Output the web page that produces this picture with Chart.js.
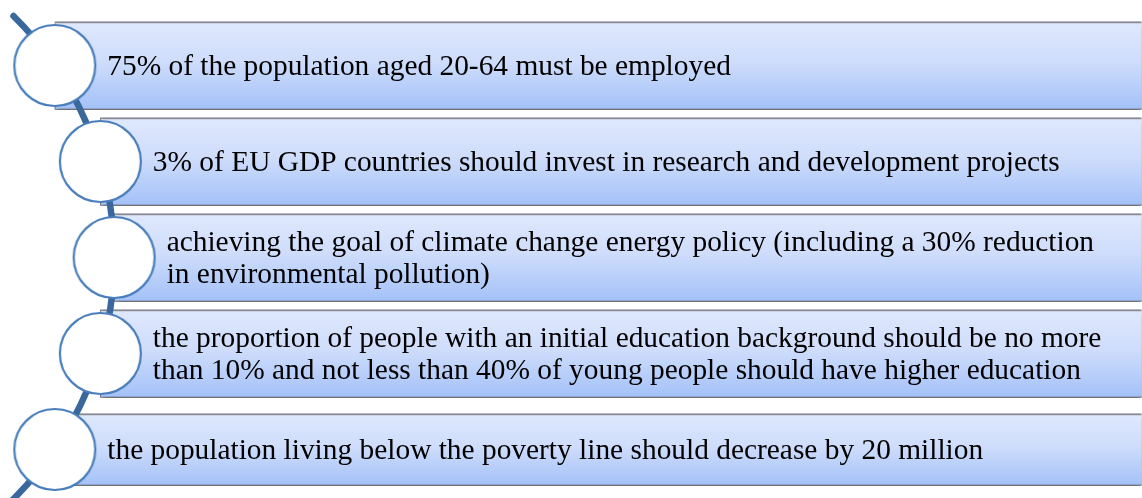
<!DOCTYPE html>
<html>
<head>
<meta charset="utf-8">
<script src="https://cdn.jsdelivr.net/npm/chart.js@4/dist/chart.umd.min.js"></script>
<style>
    html, body { margin: 0; padding: 0; background: #ffffff; }
    #wrap { width: 1142px; height: 498px; position: relative; }
</style>
</head>
<body>
<div id="wrap"><canvas id="goals"></canvas></div>
<script>
// the five targets, top to bottom (multi-line items are arrays)
const targets = [
    ['75% of the population aged 20-64 must be employed'],
    ['3% of EU GDP countries should invest in research and development projects'],
    ['achieving the goal of climate change energy policy (including a 30% reduction', 'in environmental pollution)'],
    ['the proportion of people with an initial education background should be no more', 'than 10% and not less than 40% of young people should have higher education'],
    ['the population living below the poverty line should decrease by 20 million']
];
const labels = targets.map(t => t.join(' '));

// axis range and the big arc the circles sit on
const xMax = 1142;
const arcRadius = 340;
const arcCenterX = -226;
const rowStep = 96;
const circleRadius = 40.5;

// x where item i meets the arc (same for circle centre and bar start)
function arcX(i) {
    const dy = (i - (targets.length - 1) / 2) * rowStep;
    return arcCenterX + Math.sqrt(arcRadius * arcRadius - dy * dy);
}

// circle marker drawn once, used as the point style
function makeCircle() {
    const size = Math.ceil(circleRadius * 2 + 6);
    const cv = document.createElement('canvas');
    cv.width = size;
    cv.height = size;
    const c = cv.getContext('2d');
    c.beginPath();
    c.arc(size / 2, size / 2, circleRadius, 0, Math.PI * 2);
    c.fillStyle = '#ffffff';
    c.fill();
    c.lineWidth = 2.2;
    c.strokeStyle = '#4a7ebb';
    c.stroke();
    return cv;
}

function barGradient(c) {
    const chart = c.chart;
    const yScale = chart.scales.y;
    if (!yScale) return '#c6d8fa';
    const mid = yScale.getPixelForValue(c.dataIndex);
    if (!isFinite(mid)) return '#c6d8fa';
    const half = c.dataset.barThickness / 2;
    const g = chart.ctx.createLinearGradient(0, mid - half, 0, mid + half);
    g.addColorStop(0, '#dfe8fd');
    g.addColorStop(0.45, '#cfddfb');
    g.addColorStop(1, '#a3c1f8');
    return g;
}

const decor = {
    id: 'decor',
    beforeDatasetDraw(chart, args) {
        if (args.meta.type !== 'bar') return;
        const ctx = chart.ctx;
        ctx.save();
        ctx.shadowColor = 'rgba(0,0,0,0.6)';
        ctx.shadowBlur = 6;
        ctx.shadowOffsetX = 1;
        ctx.shadowOffsetY = 4;
    },
    afterDatasetDraw(chart, args) {
        if (args.meta.type !== 'bar') return;
        const ctx = chart.ctx;
        ctx.restore();
        if (args.index !== 2) return;
        // arc connecting the circles
        const xs = chart.scales.x, ys = chart.scales.y;
        const cx = xs.getPixelForValue(arcCenterX);
        const cy = ys.getPixelForValue((targets.length - 1) / 2);
        const r = xs.getPixelForValue(arcCenterX + arcRadius) - cx;
        ctx.save();
        ctx.beginPath();
        ctx.arc(cx, cy, r, -0.79, 0.85);
        ctx.strokeStyle = '#3a679c';
        ctx.lineWidth = 6.5;
        ctx.lineCap = 'round';
        ctx.stroke();
        ctx.restore();
    },
    afterDraw(chart) {
        const ctx = chart.ctx;
        const xs = chart.scales.x, ys = chart.scales.y;
        ctx.save();
        ctx.fillStyle = '#000000';
        ctx.font = '29.4px "Liberation Serif", "Times New Roman", serif';
        ctx.textBaseline = 'alphabetic';
        ctx.textAlign = 'left';
        const lineH = 31.5;
        targets.forEach((lines, i) => {
            const x = xs.getPixelForValue(arcX(i)) + circleRadius + 12;
            const mid = ys.getPixelForValue(i);
            lines.forEach((ln, j) => {
                const y = mid + 9.5 + (j - (lines.length - 1) / 2) * lineH;
                ctx.fillText(ln, x, y);
            });
        });
        ctx.restore();
    }
};

const barBase = {
    type: 'bar',
    backgroundColor: barGradient,
    borderColor: '#8b8f97',
    borderWidth: { top: 2, bottom: 1, left: 1, right: 0 },
    borderSkipped: false,
    grouped: false
};

new Chart(document.getElementById('goals'), {
    data: {
        labels: labels,
        datasets: [
            {
                type: 'line',
                data: targets.map((t, i) => ({ x: arcX(i), y: labels[i] })),
                showLine: false,
                borderWidth: 0,
                pointStyle: makeCircle(),
                pointRadius: 0.2,
                pointBorderWidth: 0,
                pointHoverRadius: 0.2,
                pointHoverBorderWidth: 0,
                clip: false,
                order: 0
            },
            Object.assign({}, barBase, {
                data: targets.map((t, i) => i < 4 ? [arcX(i), xMax] : null),
                barThickness: 88,
                order: 3
            }),
            Object.assign({}, barBase, {
                data: targets.map((t, i) => i === 4 ? [arcX(i), xMax] : null),
                barThickness: 72,
                order: 2
            })
        ]
    },
    options: {
        indexAxis: 'y',
        responsive: true,
        maintainAspectRatio: false,
        animation: false,
        events: [],
        layout: { padding: { top: 17.5, bottom: 0.5, left: 0, right: 0 } },
        plugins: {
            legend: { display: false },
            tooltip: { enabled: false }
        },
        scales: {
            x: { type: 'linear', min: 0, max: xMax, display: false },
            y: { type: 'category', display: false, offset: true }
        }
    },
    plugins: [decor]
});
</script>
</body>
</html>
